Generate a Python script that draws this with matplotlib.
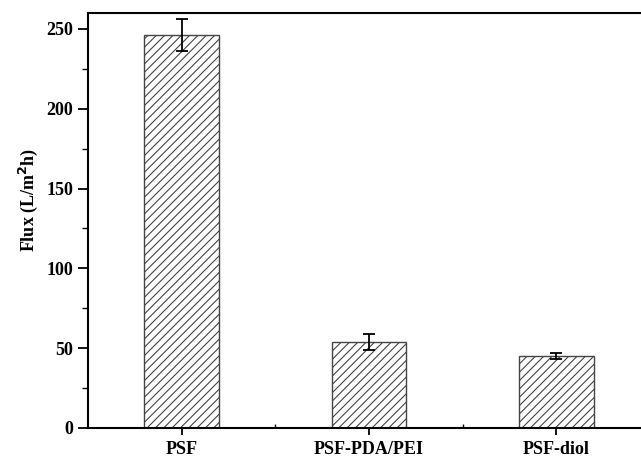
import numpy as np
import matplotlib.pyplot as plt
from matplotlib.ticker import MultipleLocator, FixedLocator

plt.rcParams['font.family'] = ['Liberation Serif', 'DejaVu Serif']
plt.rcParams['font.weight'] = 'bold'
plt.rcParams['hatch.linewidth'] = 0.8

samples = ['PSF', 'PSF-PDA/PEI', 'PSF-diol']
flux = [246, 54, 45]
flux_err = [10, 5, 2]

fig = plt.figure(figsize=(6.41, 4.59), dpi=100)
# right edge of the axes falls outside the picture, as in the reference
ax = fig.add_axes([88 / 641, 1 - 428 / 459, (650 - 88) / 641, (428 - 13) / 459])

x = np.arange(len(samples))
ax.bar(x, flux, width=0.4, color='white', edgecolor='#444444', linewidth=1.0,
       hatch='////', zorder=2)
ax.errorbar(x, flux, yerr=flux_err, fmt='none', ecolor='black', elinewidth=1.3,
            capsize=4, capthick=1.3, zorder=3)

ax.set_xlim(-0.5, 2.5)
ax.set_ylim(0, 260)
ax.set_xticks(x)
ax.set_xticklabels(samples, fontsize=13, fontweight='bold')
ax.xaxis.set_minor_locator(FixedLocator([0.5, 1.5]))
ax.yaxis.set_major_locator(MultipleLocator(50))
ax.yaxis.set_minor_locator(MultipleLocator(25))
for lab in ax.get_yticklabels():
    lab.set_fontsize(13)
    lab.set_fontweight('bold')

ax.tick_params(axis='both', which='major', direction='out', length=7, width=1.3)
ax.tick_params(axis='both', which='minor', direction='out', length=4, width=1.0)
ax.tick_params(axis='x', which='minor', direction='in', length=3)
ax.tick_params(axis='x', which='major', length=5, pad=4)
for s in ax.spines.values():
    s.set_linewidth(1.5)

ax.set_ylabel('Flux (L/m$\\mathbf{^2}$h)', fontsize=13, fontweight='bold')
ax.yaxis.set_label_coords(-0.085, 0.55)

fig.savefig('out.png', dpi=100)
